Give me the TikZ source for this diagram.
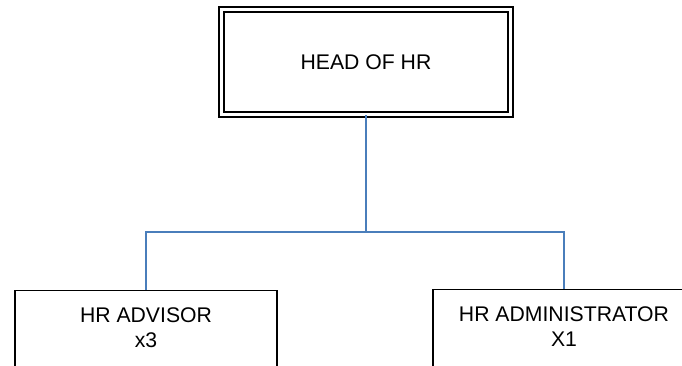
\documentclass[tikz,border=0pt]{standalone}
\usepackage{fontspec}
\setmainfont{Liberation Sans}
\usetikzlibrary{calc}
\definecolor{linkblue}{HTML}{4A7EBB}
\tikzset{
	headbox/.style={draw=black, line width=1.1pt, double, double distance=2.6pt, minimum width=217pt, minimum height=79pt, inner sep=0pt},
	staffbox/.style={draw=black, line width=1pt, anchor=north, minimum width=196.5pt, inner xsep=0pt, inner ysep=12.4pt, text depth=80pt, align=center},
	link/.style={draw=linkblue, line width=1.2pt}
}
\begin{document}
\begin{tikzpicture}[x=0.75pt, y=-0.75pt, font=\fontsize{15.9}{18.75}\selectfont]
		%%%%% START %%%%%
		\useasboundingbox (0, 0) rectangle (682, 365);
		\clip (0, 0) rectangle (682, 365);
		
		\node[headbox] (head) at (366, 62) {HEAD OF HR};
		
		\node[staffbox] (advisor) at (146, 290) {HR ADVISOR\\x3};
		\node[staffbox] (admin) at (564, 289) {HR ADMINISTRATOR\\X1};
		
		\coordinate (bus) at (366, 232);
		\draw[link] (head.south) -- (bus);
		\draw[link] (bus) -| (advisor.north);
		\draw[link] (bus) -| (admin.north);
		%%%%% END %%%%%
	\end{tikzpicture}
\end{document}
